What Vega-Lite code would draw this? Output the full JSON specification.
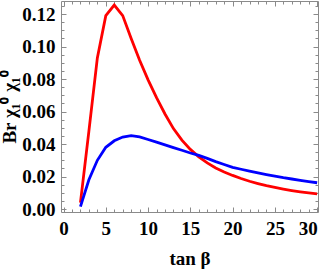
{
  "$schema": "https://vega.github.io/schema/vega-lite/v6.json",
  "autosize": "none",
  "width": 257,
  "height": 211,
  "padding": {"left": 61, "top": 1, "right": 9, "bottom": 61},
  "background": "white",
  "config": {
    "view": {"stroke": "#8a8a8a", "strokeWidth": 1},
    "axis": {
      "grid": false,
      "domain": false,
      "tickColor": "#8a8a8a",
      "tickWidth": 1,
      "labelFont": "Liberation Serif",
      "labelFontWeight": "bold",
      "labelFontSize": 19,
      "labelColor": "black",
      "titleFont": "Liberation Serif",
      "titleFontWeight": "bold",
      "titleFontSize": 19,
      "titleColor": "black"
    }
  },
  "data": {
    "values": [
      {"t": 2, "v": 0.004, "s": "red"},
      {"t": 3, "v": 0.048, "s": "red"},
      {"t": 4, "v": 0.093, "s": "red"},
      {"t": 5, "v": 0.119, "s": "red"},
      {"t": 6, "v": 0.1255, "s": "red"},
      {"t": 7, "v": 0.119, "s": "red"},
      {"t": 8, "v": 0.105, "s": "red"},
      {"t": 9, "v": 0.0915, "s": "red"},
      {"t": 10, "v": 0.0795, "s": "red"},
      {"t": 11, "v": 0.0685, "s": "red"},
      {"t": 12, "v": 0.0585, "s": "red"},
      {"t": 13, "v": 0.0495, "s": "red"},
      {"t": 14, "v": 0.0424, "s": "red"},
      {"t": 15, "v": 0.0367, "s": "red"},
      {"t": 16, "v": 0.0321, "s": "red"},
      {"t": 17, "v": 0.0284, "s": "red"},
      {"t": 18, "v": 0.0253, "s": "red"},
      {"t": 19, "v": 0.0228, "s": "red"},
      {"t": 20, "v": 0.0207, "s": "red"},
      {"t": 21, "v": 0.0188, "s": "red"},
      {"t": 22, "v": 0.0171, "s": "red"},
      {"t": 23, "v": 0.0157, "s": "red"},
      {"t": 24, "v": 0.0144, "s": "red"},
      {"t": 25, "v": 0.0133, "s": "red"},
      {"t": 26, "v": 0.0123, "s": "red"},
      {"t": 27, "v": 0.0114, "s": "red"},
      {"t": 28, "v": 0.0106, "s": "red"},
      {"t": 29, "v": 0.0099, "s": "red"},
      {"t": 30, "v": 0.0093, "s": "red"},
      {"t": 2, "v": 0.0015, "s": "blue"},
      {"t": 3, "v": 0.018, "s": "blue"},
      {"t": 4, "v": 0.030, "s": "blue"},
      {"t": 5, "v": 0.038, "s": "blue"},
      {"t": 6, "v": 0.042, "s": "blue"},
      {"t": 7, "v": 0.0443, "s": "blue"},
      {"t": 8, "v": 0.0452, "s": "blue"},
      {"t": 9, "v": 0.0444, "s": "blue"},
      {"t": 10, "v": 0.0428, "s": "blue"},
      {"t": 11, "v": 0.0412, "s": "blue"},
      {"t": 12, "v": 0.0395, "s": "blue"},
      {"t": 13, "v": 0.0378, "s": "blue"},
      {"t": 14, "v": 0.0362, "s": "blue"},
      {"t": 15, "v": 0.0345, "s": "blue"},
      {"t": 16, "v": 0.0330, "s": "blue"},
      {"t": 17, "v": 0.0312, "s": "blue"},
      {"t": 18, "v": 0.0292, "s": "blue"},
      {"t": 19, "v": 0.0274, "s": "blue"},
      {"t": 20, "v": 0.0257, "s": "blue"},
      {"t": 21, "v": 0.0245, "s": "blue"},
      {"t": 22, "v": 0.0233, "s": "blue"},
      {"t": 23, "v": 0.0222, "s": "blue"},
      {"t": 24, "v": 0.0212, "s": "blue"},
      {"t": 25, "v": 0.0203, "s": "blue"},
      {"t": 26, "v": 0.0193, "s": "blue"},
      {"t": 27, "v": 0.0185, "s": "blue"},
      {"t": 28, "v": 0.0177, "s": "blue"},
      {"t": 29, "v": 0.0169, "s": "blue"},
      {"t": 30, "v": 0.0162, "s": "blue"}
    ]
  },
  "resolve": {"axis": {"x": "independent", "y": "independent"}},
  "layer": [
    {
      "mark": {"type": "line", "strokeWidth": 2.8, "clip": true},
      "encoding": {
        "x": {"field": "t", "type": "quantitative", "scale": {"domain": [-0.3, 30.1], "nice": false, "zero": false},
              "axis": {"orient": "bottom", "values": [0, 5, 10, 15, 20, 25, 30], "tickSize": -5, "labelPadding": 12, "title": "tan β", "titlePadding": 11}},
        "y": {"field": "v", "type": "quantitative", "scale": {"domain": [-0.0018, 0.128], "nice": false, "zero": false},
              "axis": {"orient": "left", "values": [0, 0.02, 0.04, 0.06, 0.08, 0.1, 0.12], "format": ".2f", "tickSize": -5, "labelPadding": 11, "title": "Br χ₁⁰ χ₁⁰", "titlePadding": 2}},
        "color": {"field": "s", "type": "nominal", "scale": {"domain": ["red", "blue"], "range": ["#ff0000", "#0000ff"]}, "legend": null}
      }
    },
    {
      "mark": {"type": "line", "opacity": 0},
      "encoding": {
        "x": {"field": "t", "type": "quantitative", "scale": {"domain": [-0.3, 30.1], "nice": false, "zero": false},
              "axis": {"orient": "bottom", "values": [1,2,3,4,6,7,8,9,11,12,13,14,16,17,18,19,21,22,23,24,26,27,28,29], "tickSize": -3, "labels": false, "title": null}},
        "y": {"field": "v", "type": "quantitative", "scale": {"domain": [-0.0018, 0.128], "nice": false, "zero": false},
              "axis": {"orient": "left", "values": [0.005,0.01,0.015,0.025,0.03,0.035,0.045,0.05,0.055,0.065,0.07,0.075,0.085,0.09,0.095,0.105,0.11,0.115,0.125], "tickSize": -3, "labels": false, "title": null}}
      }
    },
    {
      "mark": {"type": "line", "opacity": 0},
      "encoding": {
        "x": {"field": "t", "type": "quantitative", "scale": {"domain": [-0.3, 30.1], "nice": false, "zero": false},
              "axis": {"orient": "top", "values": [0, 5, 10, 15, 20, 25, 30], "tickSize": -5, "labels": false, "title": null}},
        "y": {"field": "v", "type": "quantitative", "scale": {"domain": [-0.0018, 0.128], "nice": false, "zero": false},
              "axis": {"orient": "right", "values": [0, 0.02, 0.04, 0.06, 0.08, 0.1, 0.12], "tickSize": -5, "labels": false, "title": null}}
      }
    },
    {
      "mark": {"type": "line", "opacity": 0},
      "encoding": {
        "x": {"field": "t", "type": "quantitative", "scale": {"domain": [-0.3, 30.1], "nice": false, "zero": false},
              "axis": {"orient": "top", "values": [1,2,3,4,6,7,8,9,11,12,13,14,16,17,18,19,21,22,23,24,26,27,28,29], "tickSize": -3, "labels": false, "title": null}},
        "y": {"field": "v", "type": "quantitative", "scale": {"domain": [-0.0018, 0.128], "nice": false, "zero": false},
              "axis": {"orient": "right", "values": [0.005,0.01,0.015,0.025,0.03,0.035,0.045,0.05,0.055,0.065,0.07,0.075,0.085,0.09,0.095,0.105,0.11,0.115,0.125], "tickSize": -3, "labels": false, "title": null}}
      }
    }
  ]
}
